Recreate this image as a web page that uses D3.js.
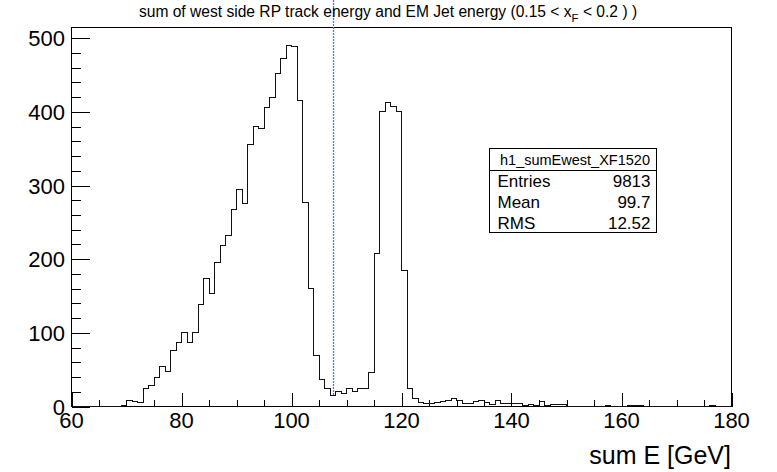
<!DOCTYPE html>
<html>
<head>
<meta charset="utf-8">
<script src="https://cdn.jsdelivr.net/npm/d3@7"></script>
<style>
  html, body { margin: 0; padding: 0; background: #fff; }
  svg { display: block; font-family: "Liberation Sans", Arial, Helvetica, sans-serif; }
</style>
</head>
<body>
<svg id="chart" width="777" height="472"></svg>
<script>
// ---- data ----
const binLow = 60, binHigh = 180, binWidth = 1;
// counts for bins starting at 60, 61, ..., 179 (1 GeV each)
const counts = [
  0,0,0,0,0,0,0,0,0,1,            // 60-69
  8,7,5,25,28,40,54,48,76,87,     // 70-79
  100,87,100,138,174,154,196,219,232,267, // 80-89
  295,275,356,380,377,406,420,452,473,490, // 90-99
  489,415,277,160,69,36,25,15,21,18,       // 100-109
  24,20,25,25,46,208,401,413,407,401,      // 110-119
  184,24,11,6,4,4,6,7,8,11,                // 120-129
  8,4,4,7,8,5,3,8,4,4,                     // 130-139
  4,4,1,3,1,7,1,3,3,3,                     // 140-149
  0,0,0,0,0,0,0,1,0,0,                     // 150-159
  0,2,1,1,0,0,0,0,0,0,                     // 160-169
  0,0,0,0,0,0,1,0,0,0                      // 170-179
];
const xTickValues = [60, 80, 100, 120, 140, 160, 180];
const yTickValues = [0, 100, 200, 300, 400, 500];
const cutValue = 107.5;
const titleMain = "sum of west side RP track energy and EM Jet energy (0.15 < x";
const titleSub = "F";
const titleEnd = " < 0.2 ) )";
const xTitle = "sum E [GeV]";
const statsName = "h1_sumEwest_XF1520";
const statsLabels = ["Entries", "Mean", "RMS"];
const statsValues = ["9813", "99.7", "12.52"];

// ---- layout ----
const svg = d3.select("#chart");
const L = 71.5, R = 731.5, T = 27.5, B = 406.5;
const yMax = 514.5;

const x = d3.scaleLinear().domain([binLow, binHigh]).range([L, R]);
const y = d3.scaleLinear().domain([0, yMax]).range([B, T]);

// frame
svg.append("rect")
  .attr("x", L).attr("y", T).attr("width", R - L).attr("height", B - T)
  .attr("fill", "none").attr("stroke", "#000").attr("stroke-width", 1)
  .attr("shape-rendering", "crispEdges");

// histogram step path
const pts = [[x(binLow), y(0)]];
counts.forEach((c, i) => {
  const x0 = x(binLow + i * binWidth), x1 = x(binLow + (i + 1) * binWidth);
  pts.push([x0, y(c)]);
  pts.push([x1, y(c)]);
});
pts.push([x(binHigh), y(0)]);
svg.append("path")
  .attr("d", d3.line()(pts))
  .attr("fill", "none").attr("stroke", "#111").attr("stroke-width", 1)
  .attr("shape-rendering", "crispEdges");

// dotted cut line
svg.append("line")
  .attr("x1", Math.round(x(cutValue)) + 0.5).attr("x2", Math.round(x(cutValue)) + 0.5)
  .attr("y1", 0).attr("y2", y(15))
  .attr("stroke", "#4a7fe0").attr("stroke-width", 1.3)
  .attr("stroke-dasharray", "2,1");

// x axis ticks (drawn inward)
const xMinor = d3.range(binLow, binHigh + 0.001, 5);
const gx = svg.append("g");
gx.selectAll("line").data(xMinor).enter().append("line")
  .attr("x1", d => Math.round(x(d)) + 0.5).attr("x2", d => Math.round(x(d)) + 0.5)
  .attr("y1", B).attr("y2", d => B - (xTickValues.includes(d) ? 14 : 7))
  .attr("stroke", "#000").attr("shape-rendering", "crispEdges");
gx.selectAll("text").data(xTickValues).enter().append("text")
  .attr("x", d => x(d)).attr("y", 428)
  .attr("text-anchor", "middle").attr("font-size", 22)
  .text(d => d);

// y axis ticks
const yMinor = d3.range(0, yMax, 20);
const gy = svg.append("g");
gy.selectAll("line").data(yMinor).enter().append("line")
  .attr("x1", L).attr("x2", d => L + (d % 100 === 0 ? 18 : 9))
  .attr("y1", d => Math.round(y(d)) + 0.5).attr("y2", d => Math.round(y(d)) + 0.5)
  .attr("stroke", "#000").attr("shape-rendering", "crispEdges");
gy.selectAll("text").data(yTickValues).enter().append("text")
  .attr("x", 65).attr("y", d => y(d) + 8)
  .attr("text-anchor", "end").attr("font-size", 22)
  .text(d => d);

// x axis title
svg.append("text")
  .attr("x", 731).attr("y", 464)
  .attr("text-anchor", "end").attr("font-size", 25)
  .text(xTitle);

// title
const t = svg.append("text")
  .attr("x", 388).attr("y", 17)
  .attr("text-anchor", "middle").attr("font-size", 15.6);
t.append("tspan").text(titleMain);
t.append("tspan").attr("dy", 5).attr("font-size", 11.5).text(titleSub);
t.append("tspan").attr("dy", -5).text(titleEnd);

// stats box
const sb = { x: 489.5, y: 148.5, w: 167, h: 84, head: 22 };
const g = svg.append("g");
g.append("rect").attr("x", sb.x).attr("y", sb.y).attr("width", sb.w).attr("height", sb.h)
  .attr("fill", "#fff").attr("stroke", "#000").attr("shape-rendering", "crispEdges");
g.append("line").attr("x1", sb.x).attr("x2", sb.x + sb.w)
  .attr("y1", sb.y + sb.head).attr("y2", sb.y + sb.head)
  .attr("stroke", "#000").attr("shape-rendering", "crispEdges");
g.append("text").attr("x", sb.x + sb.w / 2 + 2).attr("y", sb.y + 16)
  .attr("text-anchor", "middle").attr("font-size", 14.5).text(statsName);
const rowH = (sb.h - sb.head) / 3;
statsLabels.forEach((lab, i) => {
  const by = sb.y + sb.head + rowH * (i + 1) - 4;
  g.append("text").attr("x", sb.x + 8).attr("y", by).attr("font-size", 17).text(lab);
  g.append("text").attr("x", sb.x + sb.w - 6).attr("y", by)
    .attr("text-anchor", "end").attr("font-size", 17).text(statsValues[i]);
});
</script>
</body>
</html>
